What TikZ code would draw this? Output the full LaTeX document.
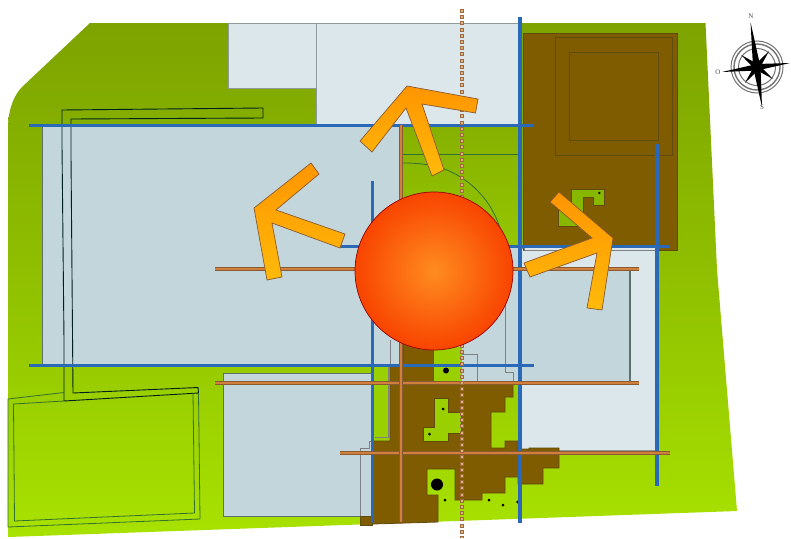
\documentclass[tikz,border=0pt]{standalone}
\usepackage{fontspec}
\setmainfont{Liberation Serif}
\definecolor{bluish}{HTML}{C3D6DB}
\definecolor{lightp}{HTML}{DCE7EB}
\definecolor{brownm}{HTML}{7F5C00}
\definecolor{browne}{HTML}{5F4A10}
\definecolor{bluel}{HTML}{2A69B8}
\definecolor{orangel}{HTML}{D0803C}
\definecolor{oranged}{HTML}{8A5A30}
\definecolor{edgeg}{HTML}{5F6F6F}
\definecolor{hole}{HTML}{9BD000}
\definecolor{sitetop}{HTML}{7DA300}
\definecolor{sitemid}{HTML}{90C000}
\definecolor{sitebot}{HTML}{A8E200}
\definecolor{courttop}{HTML}{86B000}
\definecolor{courtbot}{HTML}{94C600}
\definecolor{discin}{HTML}{FF8C20}
\definecolor{discout}{HTML}{F84400}
\definecolor{axisd}{HTML}{A06940}
\definecolor{axisl}{HTML}{DCB482}
\definecolor{arrowtop}{HTML}{FF9500}
\definecolor{arrowbot}{HTML}{FFBA0A}
\tikzset{
  x=1pt,y=-1pt,
  panel/.style={fill=lightp,draw=edgeg!70,line width=.7pt},
  darkpanel/.style={fill=bluish,draw=edgeg,line width=1pt},
  brownarea/.style={fill=brownm,draw=browne,line width=.8pt},
  greenhole/.style={fill=hole,draw=browne,line width=.7pt},
  blueline/.style={draw=bluel,line width=3pt},
  orangeline/.style={draw=oranged,line width=3.8pt,postaction={draw=orangel,line width=2.6pt}},
  wall/.style={draw=black!75!teal,line width=.9pt},
  thinw/.style={draw=black!60!green!60!gray,line width=.8pt},
  greyl/.style={draw=gray,line width=.8pt},
  arrowshape/.style={top color=arrowtop,bottom color=arrowbot,draw=oranged,line width=.7pt},
  compassring/.style={draw=black!55,line width=1pt},
  needle/.style={fill=black,draw=none},
  compassletter/.style={font=\fontsize{7}{8}\selectfont,text=black!70,inner sep=0pt},
  tree/.style={fill=black,draw=none}
}
\begin{document}
\begin{tikzpicture}
\useasboundingbox (0,0) rectangle (791,538);
\fill[white] (0,0) rectangle (791,538);
% site
\path[top color=sitetop,bottom color=sitebot,middle color=sitemid]
  (90,23) -- (705.5,23) -- (717,270) -- (737,511) -- (8,537) -- (8,128)
  .. controls (8,110) and (14,95) .. (22,87) -- cycle;
% light panels
\path[panel] (228,23) rectangle (316,88);
\path[panel] (316,23) rectangle (520,125);
\path[panel] (520,248) rectangle (657,450);
% large bluish areas
\path[fill=bluish] (42,125) -- (400,125) -- (400,246) -- (520,246) -- (520,365) -- (520,382) -- (400,382) -- (390,365) -- (42,365) -- cycle;
\draw[edgeg,line width=1pt] (42,125) -- (42,365);
\path[fill=bluish] (505,270) rectangle (630,382);
\draw[edgeg,line width=1.2pt] (630,270) -- (630,382);
\path[darkpanel] (372,373) -- (223.5,373) -- (223.5,516) -- (372,516);
\fill[bluish] (372,373) rectangle (373,441);
% green court
\path[top color=courttop,bottom color=courtbot] (400,125) rectangle (520,246);
\draw[thinw] (403,154) -- (519,154);
\draw[thinw] (403,163) .. controls (420,163) and (435,165) .. (447,170) .. controls (475,182) and (494,205) .. (501,232);
% top right brown
\path[brownarea] (523,33) rectangle (677,250);
\draw[browne,line width=1pt] (555,37) rectangle (672,155);
\draw[browne,line width=1pt] (569.5,52) rectangle (658,140);
\path[fill=hole!88!black,draw=browne,line width=.7pt] (571,189) -- (604.5,189) -- (604.5,205) -- (593.5,205) -- (593.5,197) -- (583,197) -- (583,226) -- (558.5,226) -- (558.5,210) -- (571,210) -- cycle;
\fill[tree] (599.3,193) circle (1.2);
\path[fill=lightp] (524,247) rectangle (657,250);
\draw[greyl] (524,247) -- (524,250) -- (655,250);
% green patches near centre bottom
\path[fill=hole] (373,365) rectangle (390,441);
\draw[greyl] (375,437) -- (388,437) -- (388,365);
\draw[greyl] (390,340) -- (390,365);
\draw[greyl] (360,516) -- (360,448) -- (369,448) -- (369,441) -- (373,441);
% bottom brown
\path[brownarea] (403,340) -- (434,340) -- (434,382) -- (513,382) -- (513,397) -- (505,397) -- (505,412) -- (491,412) -- (491,448) -- (505,448) -- (505,441) -- (518,441) -- (518,449) -- (529,449) -- (529,448) -- (559,448) -- (559,468) -- (543,468) -- (543,484) -- (518,484) -- (518,477) -- (505,477) -- (505,493) -- (482,493) -- (482,500) -- (455,500) -- (455,469) -- (427,469) -- (427,495) -- (438,495) -- (438,522) -- (373,524) -- (373,441) -- (390,441) -- (390,365) -- (403,365) -- cycle;
\path[brownarea] (360,516) -- (372,516) -- (372,525) -- (360,525) -- cycle;
\path[fill=hole] (434,347) rectangle (462,382);
\path[greenhole] (434,398) -- (448,398) -- (448,412) -- (461,412) -- (461,433) -- (448,433) -- (448,441) -- (423,441) -- (423,427) -- (434,427) -- cycle;
\draw[greyl] (462,354) -- (477,354) -- (477,382);
\draw[greyl] (505,300) -- (505,372) -- (513,372) -- (513,382);
\fill[tree] (446,370.5) circle (3);
\fill[tree] (443,409) circle (1.5);
\fill[tree] (429.5,434) circle (1.5);
\fill[tree] (437,484.5) circle (6);
\fill[tree] (445,500) circle (1.5);
\fill[tree] (489,500) circle (1.5);
\fill[tree] (503,505) circle (1.5);
\fill[tree] (517.5,502) circle (1.5);
% walls
\draw[wall] (64,401) -- (64,340) -- (62,145) -- (62,110) -- (263,108) -- (263,118) -- (71,119) -- (71,155) -- (73,393) -- (198,387.5) -- (198.5,393) -- cycle;
% bottom-left plot
\draw[thinw] (64,392.5) -- (8,399) -- (8,527) -- (200,519) -- (198.5,393);
\draw[thinw] (64,401) -- (13.5,404) -- (14.5,521) -- (194.5,513) -- (193,393);
% lines
\draw[blueline] (29,125) -- (534,125);
\draw[blueline] (29,365) -- (534,365);
\draw[blueline] (340,246) -- (670,246);
\draw[blueline,line width=3.4pt] (520,17) -- (520,523);
\draw[blueline,line width=3.4pt] (372.5,181) -- (372.5,523);
\draw[blueline,line width=3.4pt] (657,144) -- (657,486);
\draw[orangeline] (215,269) -- (639,269);
\draw[orangeline] (215,383) -- (639,383);
\draw[orangeline] (340,453) -- (670,453);
\draw[orangeline] (401,125) -- (401,522);
% dotted axis
\draw[draw=axisd,line width=4pt,dash pattern=on 4pt off 2.2pt] (462,9) -- (462,538);
\draw[draw=axisl,line width=2pt,dash pattern=on 2pt off 4.2pt,dash phase=-1pt] (462,9) -- (462,538);
% circle
\path[draw=black!40!red,line width=.7pt,inner color=discin,outer color=discout] (434,271) circle (79);
% arrows
\path[arrowshape] (407,86) -- (478,99) -- (475.5,113) -- (422,104) -- (444,170) -- (432,176) -- (406,108) -- (372,152) -- (360,141) -- cycle;
\path[arrowshape] (254,208) -- (311,163) -- (319,174) -- (276,210) -- (345,234) -- (340,248) -- (272,223) -- (282,277) -- (267,280) -- cycle;
\path[arrowshape] (559,192) -- (613,238) -- (602,310) -- (587,308) -- (597,253) -- (530,277) -- (524,263) -- (592,238) -- (550,202) -- cycle;
% compass
\draw[compassring] (757,67) circle (26);
\draw[compassring,line width=1.4pt] (757,67) circle (23);
\draw[compassring] (757,67) circle (18.5);
\foreach \a in {45,135,225,315}{
  \begin{scope}[shift={(757,67)},rotate=\a+8]
  \fill[needle] (0,-3) -- (20,0) -- (0,3) -- cycle;
  \end{scope}}
\begin{scope}[shift={(757,67)}]
\fill[needle] (-6.5,-45) -- (-4,0) -- (5,40) -- (3.5,0) -- cycle;
\fill[needle] (-35,5) -- (0,-3) -- (33,-4) -- (0,3.5) -- cycle;
\end{scope}
\node[compassletter] (cn) at (751,16) {N};
\node[compassletter] (co) at (718,72) {O};
\node[compassletter] (cs) at (762,107) {S};
\end{tikzpicture}
\end{document}
